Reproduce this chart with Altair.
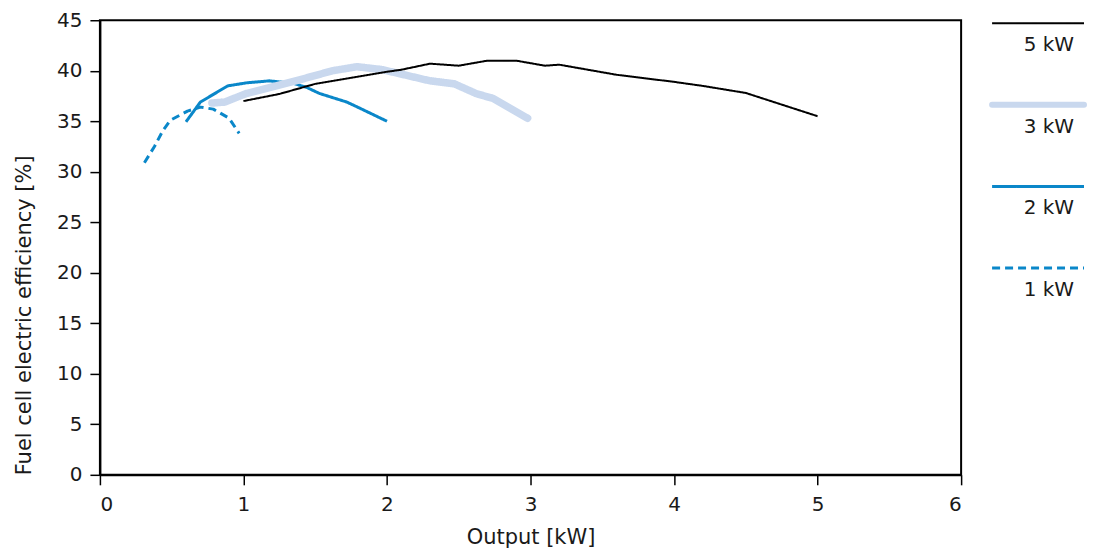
import altair as alt
import pandas as pd

FONT = "DejaVu Sans"
TXT = "#1a1a1a"

x5 = [1.0, 1.25, 1.5, 1.75, 2.0, 2.1, 2.3, 2.5, 2.7, 2.9, 3.1, 3.2, 3.6, 4.0, 4.2, 4.5, 5.0]
y5 = [37.0, 37.7, 38.7, 39.3, 39.9, 40.1, 40.7, 40.5, 41.0, 41.0, 40.5, 40.6, 39.6, 38.9, 38.5, 37.8, 35.5]

x3 = [0.78, 0.87, 1.02, 1.16, 1.39, 1.62, 1.79, 1.97, 2.09, 2.30, 2.47, 2.62, 2.74, 2.98]
y3 = [36.8, 36.9, 37.75, 38.25, 39.1, 40.0, 40.4, 40.1, 39.7, 39.0, 38.7, 37.75, 37.25, 35.3]

x2 = [0.60, 0.70, 0.89, 1.02, 1.18, 1.35, 1.44, 1.53, 1.72, 1.81, 2.0]
y2 = [34.95, 36.9, 38.5, 38.8, 39.0, 38.75, 38.35, 37.75, 36.9, 36.3, 35.0]

x1 = [0.31, 0.38, 0.44, 0.49, 0.61, 0.70, 0.79, 0.90, 0.97]
y1 = [30.9, 32.5, 34.1, 35.1, 36.0, 36.4, 36.2, 35.3, 33.8]

series = ["5 kW", "3 kW", "2 kW", "1 kW"]
colors = ["#000000", "#c9d8ee", "#0a87c9", "#0a87c9"]
widths = [2, 7.5, 3, 3]
dashes = [[1, 0], [1, 0], [1, 0], [8, 5]]

xs = [x5, x3, x2, x1]
ys = [y5, y3, y2, y1]

layers = []
for name, xv, yv, c, w, d in zip(series, xs, ys, colors, widths, dashes):
    df = pd.DataFrame({"x": xv, "y": yv, "s": name})
    layers.append(
        alt.Chart(df).mark_line(color=c, strokeWidth=w, strokeDash=d,
                                strokeCap="round" if w > 5 else "butt", strokeJoin="round")
        .encode(
            x=alt.X("x:Q", scale=alt.Scale(domain=[0, 6], nice=False),
                    axis=alt.Axis(title="Output [kW]", values=[0, 1, 2, 3, 4, 5, 6], format="d",
                                  labelPadding=10, titlePadding=12)),
            y=alt.Y("y:Q", scale=alt.Scale(domain=[0, 45], nice=False),
                    axis=alt.Axis(title="Fuel cell electric efficiency [%]", values=list(range(0, 50, 5)),
                                  labelPadding=8, titlePadding=22, titleAnchor="start")),
        )
    )

main = alt.layer(*layers[::-1]).properties(
    width=862, height=455,
    view=alt.ViewBackground(stroke="#000000", strokeWidth=2)
)

legdf = pd.DataFrame({"s": series})

ysc = alt.Scale(type="point", domain=series, range=[3, 248], padding=0)
leg_layers = []
for name, c, w, d in zip(series, colors, widths, dashes):
    sub = legdf[legdf.s == name]
    leg_layers.append(
        alt.Chart(sub).mark_rule(color=c, strokeWidth=min(w, 6), strokeDash=d,
                                 strokeCap="round" if w > 5 else "butt")
        .encode(x=alt.value(0), x2=alt.value(92), y=alt.Y("s:N", scale=ysc, axis=None))
    )
leg_layers.append(
    alt.Chart(legdf).mark_text(align="right", baseline="middle", dy=22, fontSize=20, font=FONT, color=TXT)
    .encode(x=alt.value(82), y=alt.Y("s:N", scale=ysc, axis=None), text="s:N")
)
legend = alt.layer(*leg_layers).properties(
    width=92, height=455,
    view=alt.ViewBackground(stroke=None)
)

chart = alt.hconcat(main, legend, spacing=26).configure_axis(
    grid=False,
    domainColor="#000000",
    domainWidth=2,
    tickColor="#000000",
    tickWidth=1.5,
    tickSize=10,
    labelFont=FONT,
    labelFontSize=20,
    labelColor=TXT,
    titleFont=FONT,
    titleFontSize=21,
    titleFontWeight="normal",
    titleColor=TXT,
).properties(
    padding={"left": 4, "top": 1, "right": 0, "bottom": 0}
)

chart.save("out.html", embed_options={"renderer": "svg", "actions": False})
